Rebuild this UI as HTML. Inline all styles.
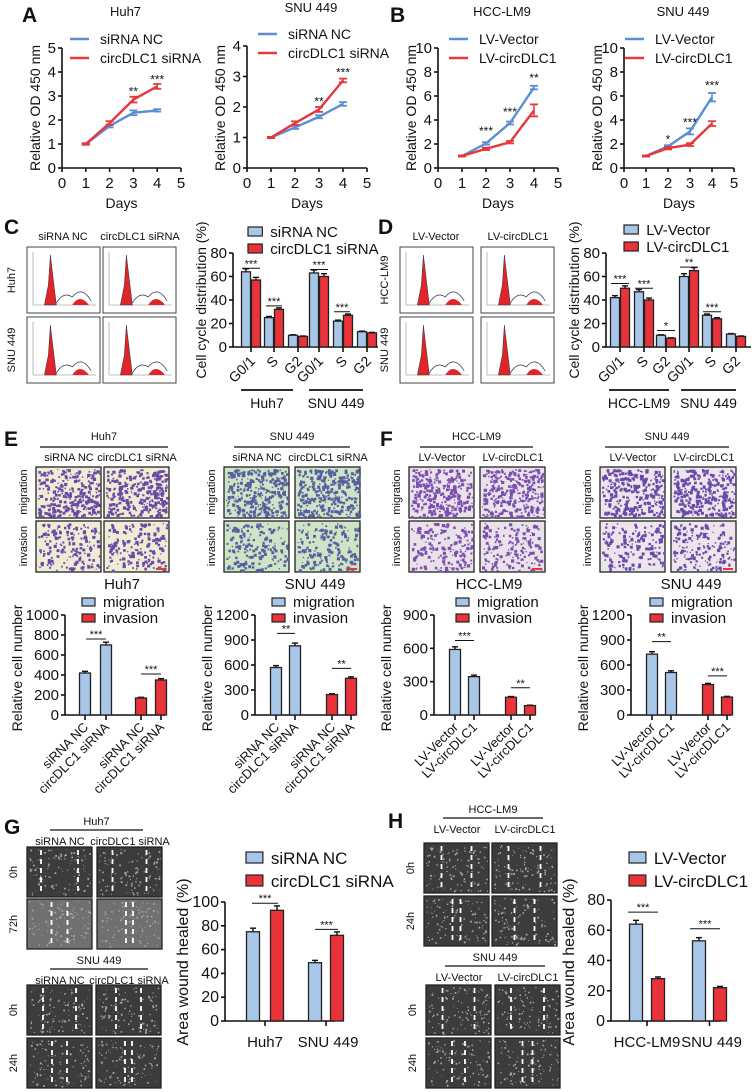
<!DOCTYPE html>
<html><head><meta charset="utf-8"><style>
html,body{margin:0;padding:0;background:#fff;}
svg{display:block;font-family:"Liberation Sans",Arial,sans-serif;}
</style></head><body>
<svg id="fig" width="752" height="1092" viewBox="0 0 752 1092" xmlns="http://www.w3.org/2000/svg"></svg>
<script>
// ---------- DATA ----------
const days=[1,2,3,4];
const aHuhNC=[1,1.75,2.3,2.4], aHuhSi=[1,1.87,2.85,3.4];
const aHuhNCe=[0.03,0.06,0.1,0.05], aHuhSie=[0.03,0.08,0.12,0.1];
const aSnuNC=[1,1.33,1.68,2.1], aSnuSi=[1,1.47,1.92,2.87];
const aSnuNCe=[0.02,0.05,0.05,0.06], aSnuSie=[0.02,0.06,0.08,0.06];
const bHccVec=[1,2.05,3.75,6.7], bHccCirc=[1,1.6,2.15,4.8];
const bHccVece=[0.05,0.1,0.12,0.15], bHccCirce=[0.05,0.1,0.1,0.5];
const bSnuVec=[1,1.8,3.05,5.9], bSnuCirc=[1,1.65,1.95,3.7];
const bSnuVece=[0.05,0.1,0.25,0.35], bSnuCirce=[0.05,0.1,0.12,0.2];
const phases=["G0/1","S","G2"];
const cHuhNC=[64,25,10], cHuhSi=[57,32,9], cSnuNC=[63,22,13], cSnuSi=[60,27,12];
const dHccVec=[42,47,10], dHccCirc=[50,40,7.5], dSnuVec=[60,27,11], dSnuCirc=[65,24,9];
const eHuhMig=[420,700], eHuhInv=[170,350], eSnuMig=[570,830], eSnuInv=[245,440];
const fHccMig=[590,345], fHccInv=[160,85], fSnuMig=[730,510], fSnuInv=[365,215];
const gHuh=[75,93], gSnu=[49,72], hHcc=[64,28], hSnu=[53,22];
const ticks5=[0,1,2,3,4,5], ticks4=[0,1,2,3,4], ticks10=[0,2,4,6,8,10], ticks80=[0,20,40,60,80];
const ticks1000=[0,200,400,600,800,1000], ticks1200=[0,300,600,900,1200], ticks900=[0,300,600,900], ticks100=[0,20,40,60,80,100];

// ---------- HELPERS ----------
const NS="http://www.w3.org/2000/svg", svg=document.getElementById('fig');
const BL="#5b8fd3", RD="#e5383d", BF="#a8c7e8", RF="#e8333a";
function mk(tag,attrs,name,parent,txt){
  const el=document.createElementNS(NS,tag);
  for(const k in attrs) el.setAttribute(k,attrs[k]);
  
  
  if(txt!==undefined) el.textContent=txt;
  (parent||svg).appendChild(el); return el;
}
function T(x,y,s,txt,name,opt){opt=opt||{};
  const a={x:x,y:y,'font-size':s,'text-anchor':opt.a||'middle',fill:opt.f||'#111'};
  if(opt.w)a['font-weight']=opt.w;
  if(opt.r!==undefined)a.transform='rotate('+opt.r+' '+x+' '+y+')';
  return mk('text',a,name,opt.p,txt);}
function L(x1,y1,x2,y2,name,opt){opt=opt||{};
  return mk('line',{x1:x1,y1:y1,x2:x2,y2:y2,stroke:opt.c||'#111','stroke-width':opt.w||1.6,'stroke-dasharray':opt.d||'none'},name,opt.p);}
function R(x,y,w,h,fill,name,opt){opt=opt||{};
  return mk('rect',{x:x,y:y,width:w,height:h,fill:fill,stroke:opt.s||'none','stroke-width':opt.sw||1},name,opt.p);}
let seed=7;function rnd(){seed=(seed*16807)%2147483647;return seed/2147483647;}

function yAxis(ax,ticks,name){
  const g=mk('g',{},name);
  L(ax.x0,ax.sy(ticks[0]),ax.x0,ax.sy(ticks[ticks.length-1]),name+'-line',{p:g});
  ticks.forEach(t=>{const y=ax.sy(t);L(ax.x0-4,y,ax.x0,y,name+'-tick',{p:g});
    T(ax.x0-6,y+5,ax.fs||14,String(t),name+'-label',{a:'end',p:g});});
  return g;}
function scale(d0,d1,p0,p1){return v=>p0+(v-d0)/(d1-d0)*(p1-p0);}

// ---------- LINE CHARTS ----------
function lineChart(c){
  const sx=scale(0,5,c.x0,c.x5), sy=scale(0,c.ymax,168,c.ytop);
  const g=mk('g',{},c.name);
  T((c.x0+c.x5)/2+4,c.ty,13,c.title,c.name+'-title',{p:g});
  yAxis({x0:c.x0,sy:sy,fs:15},c.yt,c.name+'-y-axis');
  L(c.x0,168,c.x5,168,c.name+'-x-axis',{p:g});
  c.xt.forEach(t=>{L(sx(t),168,sx(t),172,'x-tick',{p:g});T(sx(t),188,15,String(t),'x-tick-label',{p:g});});
  T((c.x0+c.x5)/2,208,14,'Days','x-axis-title',{p:g});
  T(c.x0-22,108,14,'Relative OD 450 nm','y-axis-title',{r:-90,p:g});
  [[c.s1,c.e1,BL,c.l1],[c.s2,c.e2,RD,c.l2]].forEach(([s,e,col,lab],i)=>{
    const pts=days.map((d,j)=>sx(d)+','+sy(s[j])).join(' ');
    mk('polyline',{points:pts,fill:'none',stroke:col,'stroke-width':2.4},'series-'+lab.replace(/ /g,'-'),g);
    days.forEach((d,j)=>{const x=sx(d);L(x,sy(s[j]-e[j]),x,sy(s[j]+e[j]),'error-bar',{c:col,w:1.5,p:g});
      L(x-4,sy(s[j]+e[j]),x+4,sy(s[j]+e[j]),'error-cap',{c:col,w:1.8,p:g});L(x-4,sy(s[j]-e[j]),x+4,sy(s[j]-e[j]),'error-cap',{c:col,w:1.8,p:g});});
    L(c.lx,c.ly+i*19,c.lx+19,c.ly+i*19,'legend-line',{c:col,w:2.4,p:g});
    T(c.lx+30,c.ly+i*19+5,14,lab,'legend-label',{a:'start',p:g});
  });
  c.stars.forEach(([d,v,s])=>T(sx(d),sy(v)+3,12,s,'significance',{p:g}));
}
lineChart({name:'chart-a-huh7',x0:62,x5:181,ymax:5,ytop:48,yt:ticks5,xt:ticks5,title:'Huh7',ty:16,s1:aHuhNC,s2:aHuhSi,e1:aHuhNCe,e2:aHuhSie,l1:'siRNA NC',l2:'circDLC1 siRNA',lx:70,ly:39,stars:[[3,3.15,'**'],[4,3.65,'***']]});
lineChart({name:'chart-a-snu449',x0:247,x5:367,ymax:4,ytop:46,yt:ticks4,xt:ticks5,title:'SNU 449',ty:12,s1:aSnuNC,s2:aSnuSi,e1:aSnuNCe,e2:aSnuSie,l1:'siRNA NC',l2:'circDLC1 siRNA',lx:258,ly:34,stars:[[3,2.15,'**'],[4,3.1,'***']]});
lineChart({name:'chart-b-hcclm9',x0:438,x5:558,ymax:10,ytop:48,yt:ticks10,xt:ticks5,title:'HCC-LM9',ty:16,s1:bHccVec,s2:bHccCirc,e1:bHccVece,e2:bHccCirce,l1:'LV-Vector',l2:'LV-circDLC1',lx:449,ly:39,stars:[[2,3,'***'],[3,4.6,'***'],[4,7.4,'**']]});
lineChart({name:'chart-b-snu449',x0:624,x5:734,ymax:10,ytop:48,yt:ticks10,xt:ticks5,title:'SNU 449',ty:16,s1:bSnuVec,s2:bSnuCirc,e1:bSnuVece,e2:bSnuCirce,l1:'LV-Vector',l2:'LV-circDLC1',lx:625,ly:39,stars:[[2,2.3,'*'],[3,3.7,'***'],[4,6.8,'***']]});

// ---------- BAR CHARTS ----------
function bars(c){
  const g=mk('g',{},c.name), sy=scale(0,c.ymax,c.y0,c.ytop);
  yAxis({x0:c.x0,sy:sy,fs:c.fs||15},c.yt,c.name+'-y-axis');
  L(c.x0,c.y0,c.x1,c.y0,c.name+'-x-axis',{p:g});
  T(c.ylx,c.yly,c.yfs||14,c.ylab,'y-axis-title',{r:-90,p:g});
  c.series.forEach(s=>{s.vals.forEach((v,i)=>{const x=s.xs[i];
    const top=sy(v), e=(s.err?s.err[i]:v*0.04);
    L(x,top,x,sy(v+e),'error-bar',{w:1.4,p:g});L(x-3,sy(v+e),x+3,sy(v+e),'error-cap',{w:1.4,p:g});
    R(x-c.bw/2,top,c.bw,c.y0-top,s.fill,'bar-'+s.id+'-'+i,{s:'#222',sw:1.3,p:g});});});
  (c.ticks||[]).forEach(x=>L(x,c.y0,x,c.y0+5,'x-tick',{p:g}));
  (c.sig||[]).forEach(([a,b,v,s])=>{const y=sy(v);L(a,y,b,y,'significance-line',{w:1,p:g});T((a+b)/2,y-1,11,s,'significance',{p:g});});
  return g;}
function legendBox(x,y,fill,lab,fs,sz,name){R(x,y-sz+2,sz*1.3,sz-2,fill,name+'-swatch',{s:'#222',sw:1.2});T(x+sz*1.3+8,y+1,fs,lab,name+'-label',{a:'start'});}

function cycle(name,x0,xb,a,b,ylab,labs,g1,g2,sigs){
  const xs=xb, xr=xb.map(v=>v+10);
  bars({name:name,x0:x0,x1:x0+145,y0:347,ytop:253,ymax:80,yt:ticks80,bw:9,ylx:x0-27,yly:300,ylab:ylab,
    series:[{id:'blue',vals:a,xs:xs,fill:BF},{id:'red',vals:b,xs:xr,fill:RF}],ticks:xb.map(v=>v+5),sig:sigs});
  xb.forEach((x,i)=>T(x+10,362,14,phases[i%3],'x-tick-label',{a:'end',r:-45}));
  L(g1[0],390,g1[1],390,'group-line',{w:1.8});L(g2[0],390,g2[1],390,'group-line',{w:1.8});
  T((g1[0]+g1[1])/2,408,14,labs[0],'group-label');T((g2[0]+g2[1])/2,408,14,labs[1],'group-label');
}
const cB=[246,269,293,314,338,362];
cycle('chart-c-cell-cycle',233,cB,cHuhNC.concat(cSnuNC),cHuhSi.concat(cSnuSi),'Cell cycle distribution (%)',['Huh7','SNU 449'],[241,293],[309,363],
 [[242,260,67,'***'],[266,282,35,'***'],[310,328,66,'***'],[334,350,30,'***']]);
legendBox(248,236,BF,'siRNA NC',15,11,'legend-c-nc');legendBox(248,253,RF,'circDLC1 siRNA',15,11,'legend-c-si');
const dB=[615,639,661,684,707,731];
cycle('chart-d-cell-cycle',606,dB,dHccVec.concat(dSnuVec),dHccCirc.concat(dSnuCirc),'Cell cycle distribution (%)',['HCC-LM9','SNU 449'],[609,669],[681,736],
 [[611,629,54,'***'],[635,653,50,'***'],[657,675,14,'*'],[680,698,68,'**'],[703,721,30,'***']]);
legendBox(624,234,BF,'LV-Vector',15,11,'legend-d-vec');legendBox(624,251,RF,'LV-circDLC1',15,11,'legend-d-circ');

function cells(name,x0,ymax,yt,xs,mig,inv,title,tx,lx,labs,sigs){
  bars({name:name,x0:x0,x1:x0+100,y0:715,ytop:615,ymax:ymax,yt:yt,bw:11,ylx:x0-43,yly:668,ylab:'Relative cell number',
   series:[{id:'migration',vals:mig,xs:xs.slice(0,2),fill:BF},{id:'invasion',vals:inv,xs:xs.slice(2),fill:RF}],ticks:xs,sig:sigs});
  T(tx,589,15,title,'chart-title');
  legendBox(lx,606,BF,'migration',15,10,'legend-migration');legendBox(lx,622,RF,'invasion',15,10,'legend-invasion');
  xs.forEach((x,i)=>T(x+4,728,13,labs[i%2],'x-tick-label',{a:'end',r:-45}));
}
cells('chart-e-huh7',65,1000,ticks1000,[85,106,141,161],eHuhMig,eHuhInv,'Huh7',122,82,['siRNA NC','circDLC1 siRNA'],[[86,106,760,'***'],[141,161,410,'***']]);
cells('chart-e-snu449',255,1200,ticks1200,[276,295,332,351],eSnuMig,eSnuInv,'SNU 449',315,272,['siRNA NC','circDLC1 siRNA'],[[277,295,980,'**'],[332,351,560,'**']]);
cells('chart-f-hcclm9',434,900,ticks900,[455,474,511,530],fHccMig,fHccInv,'HCC-LM9',489,456,['LV-Vector','LV-circDLC1'],[[455,474,670,'***'],[511,530,245,'**']]);
cells('chart-f-snu449',631,1200,ticks1200,[652,671,708,727],fSnuMig,fSnuInv,'SNU 449',691,650,['LV-Vector','LV-circDLC1'],[[652,671,880,'**'],[708,727,470,'***']]);

function wound(name,x0,ymax,yt,xs,a,b,labs,lab2,sigs,lx,ytop){
  bars({name:name,x0:x0,x1:x0+110,y0:1021,ytop:ytop,ymax:ymax,yt:yt,bw:13,fs:16,yfs:16,ylx:x0-37,yly:962,ylab:'Area wound healed (%)',
   series:[{id:'blue',vals:[a[0],b[0]],xs:[xs[0],xs[2]],fill:BF},{id:'red',vals:[a[1],b[1]],xs:[xs[1],xs[3]],fill:RF}],ticks:[(xs[0]+xs[1])/2,(xs[2]+xs[3])/2],sig:sigs});
  T((xs[0]+xs[1])/2,1047,15,labs[0],'x-tick-label');T((xs[2]+xs[3])/2+2,1047,15,labs[1],'x-tick-label');
  legendBox(lx,863,BF,lab2[0],17,13,'legend-blue');legendBox(lx,886,RF,lab2[1],17,13,'legend-red');
}
wound('chart-g-wound',225,100,ticks100,[253,277,315,337],gHuh,gSnu,['Huh7','SNU 449'],['siRNA NC','circDLC1 siRNA'],[[252,278,99,'***'],[315,338,77,'***']],246,902);
wound('chart-h-wound',611,80,ticks80,[636,658,699,720],hHcc,hSnu,['HCC-LM9','SNU 449'],['LV-Vector','LV-circDLC1'],[[628,658,72,'***'],[690,720,61,'***']],629,900);

[['A',22,22],['B',390,22],['C',4,234],['D',378,234],['E',4,446],['F',380,446],['G',4,834],['H',388,828]].forEach(([l,x,y])=>T(x,y,21,l,'panel-label-'+l.toLowerCase(),{a:'start',w:'bold'}));

function photo(x,y,w,h,bg,dot,n,name,sz){
  const g=mk('g',{},name);
  R(x,y,w,h,bg,name+'-bg',{s:'#222',sw:1.3,p:g});
  let d='';for(let i=0;i<n;i++){const px=x+2+rnd()*(w-4),py=y+2+rnd()*(h-4),s=sz*(0.5+rnd());d+='M'+px.toFixed(1)+' '+py.toFixed(1)+'h'+s.toFixed(1)+'v'+s.toFixed(1)+'h-'+s.toFixed(1)+'z';}
  mk('path',{d:d,fill:dot},name+'-texture',g);return g;}
function flow(x,y,w,h,name){
  const g=mk('g',{},name);R(x,y,w,h,'#fff',name+'-frame',{s:'#444',sw:1,p:g});
  L(x+6,y+h-8,x+w-4,y+h-8,'flow-axis',{c:'#aaa',w:0.8,p:g});L(x+6,y+5,x+6,y+h-8,'flow-axis',{c:'#aaa',w:0.8,p:g});
  const b=y+h-8,px=x+w*0.32;
  mk('path',{d:`M${px-6} ${b} L${px-2} ${b-20} L${px} ${y+8} L${px+3} ${b-25} L${px+6} ${b} Z`,fill:'#e0242b',stroke:'#333','stroke-width':0.5},'g1-peak',g);
  mk('path',{d:`M${x+w*0.62} ${b} Q${x+w*0.72} ${b-12} ${x+w*0.85} ${b} Z`,fill:'#e0242b'},'g2-peak',g);
  mk('path',{d:`M${px+6} ${b-2} Q${x+w*0.5} ${b-14} ${x+w*0.62} ${b-8} Q${x+w*0.75} ${b-20} ${x+w*0.88} ${b-4}`,fill:'none',stroke:'#335','stroke-width':0.7},'s-curve',g);}
[[27,103,'siRNA NC','circDLC1 siRNA',['Huh7','SNU 449'],'c'],[400,481,'LV-Vector','LV-circDLC1',['HCC-LM9','SNU 449'],'d']].forEach(([a,b,l1,l2,rows,k])=>{
  T(a+36,240,11,l1,'column-label');T(b+37,240,11,l2,'column-label');
  [247,317].forEach((y,r)=>{flow(a,y,73,66,'flow-'+k+'-'+r+'-a');flow(b,y,73,66,'flow-'+k+'-'+r+'-b');T(a-12,y+33,11,rows[r],'row-label',{r:-90});});});
function transwell(title,lx0,lx1,xa,xb,l1,l2,bg,dot,rowlab){
  T((lx0+lx1)/2,440,11,title,'block-title');L(lx0,447,lx1,447,'block-line',{w:1.2});
  T(xa+33,461,11,l1,'column-label');T(xb+33,461,11,l2,'column-label');
  [[467,'migration'],[521,'invasion']].forEach(([y,r],ri)=>{
    [xa,xb].forEach((x,ci)=>photo(x,y,65,51,bg,dot,ri==0?300:170,'transwell-'+title.replace(/ /g,'')+'-'+r+'-'+ci,2.2));
    if(rowlab)T(xa-9,y+25,11,r,'row-label',{r:-90});});
  R(xb+52,568,10,2,'#e33','scale-bar');}
transwell('Huh7',40,168,36,104,'siRNA NC','circDLC1 siRNA','#efecd6','#6a4aa6',true);
transwell('SNU 449',234,350,224,295,'siRNA NC','circDLC1 siRNA','#cfe3c6','#55609e',true);
transwell('HCC-LM9',420,533,409,480,'LV-Vector','LV-circDLC1','#e9e2e8','#7a4fb0',true);
transwell('SNU 449',605,729,600,671,'LV-Vector','LV-circDLC1','#ece6ec','#6a4aa8',true);
function woundImgs(title,tyy,cx0,cx1,xa,xb,l1,l2,y1,y2,r1,r2,gaps){
  T((cx0+cx1)/2,tyy,11,title,'block-title');L(cx0,tyy+5,cx1,tyy+5,'block-line',{w:1.2});
  T(xa+33,tyy+20,11,l1,'column-label');T(xb+33,tyy+20,11,l2,'column-label');
  [[y1,r1],[y2,r2]].forEach(([y,r],ri)=>{
    [xa,xb].forEach((x,ci)=>{const bgc=(r=='72h')?'#707070':'#3c3c3c';
      photo(x,y,65,50,bgc,'#aaa',110,'wound-'+title.replace(/ /g,'')+'-'+r+'-'+ci,1.2);
      const gp=gaps[ri][ci];
      [x+32.5-gp/2,x+32.5+gp/2].forEach(lx=>L(lx,y+3,lx,y+47,'wound-edge',{c:'#fff',w:1.8,d:'5 4'}));});
    T(xa-10,y+25,11,r,'row-label',{r:-90});});}
woundImgs('Huh7',825,50,143,27,97,'siRNA NC','circDLC1 siRNA',847,899,'0h','72h',[[37,34],[16,7]]);
woundImgs('SNU 449',964,50,148,27,96,'siRNA NC','circDLC1 siRNA',985,1038,'0h','24h',[[33,25],[15,7]]);
woundImgs('HCC-LM9',813,443,543,424,492,'LV-Vector','LV-circDLC1',843,896,'0h','24h',[[30,32],[8,20]]);
woundImgs('SNU 449',961,445,545,426,495,'LV-Vector','LV-circDLC1',985,1038,'0h','24h',[[32,33],[13,10]]);
</script>
</body></html>
